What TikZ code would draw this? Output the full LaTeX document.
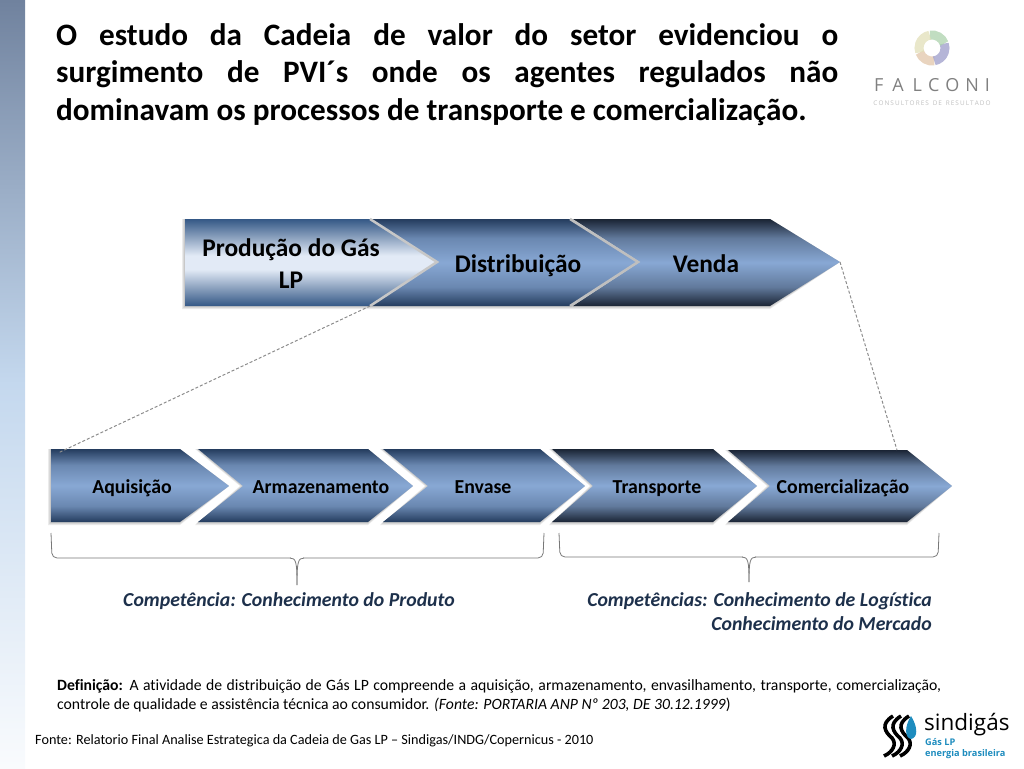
\documentclass[tikz,border=0pt]{standalone}
\usepackage{fontspec}
\setmainfont{Carlito}[Ligatures=NoCommon]
\newfontfamily\logofont{Open Sans}
\usepackage{xcolor}
\usepackage{tikz}
\usetikzlibrary{positioning, calc}
\definecolor{cStripTop}{RGB}{112,130,158}
\definecolor{cStripMid}{RGB}{196,216,238}
\definecolor{cEdgeBlue}{RGB}{52,88,134}
\definecolor{cPale}{RGB}{226,234,246}
\definecolor{cSteel}{RGB}{36,60,94}
\definecolor{cMidBlue}{RGB}{136,168,212}
\definecolor{cNight}{RGB}{26,36,52}
\definecolor{cBrace}{RGB}{120,120,120}
\definecolor{cLogoBlue}{RGB}{30,140,190}
\pgfdeclareverticalshading{stripshade}{100bp}{color(0bp)=(white); color(25bp)=(white!90!cStripMid); color(50bp)=(cStripMid); color(68bp)=(cStripTop!70!cStripMid); color(75bp)=(cStripTop); color(100bp)=(cStripTop)}
\pgfdeclareverticalshading{paleshade}{100bp}{color(0bp)=(cEdgeBlue); color(25bp)=(cEdgeBlue); color(46bp)=(cPale); color(54bp)=(cPale); color(75bp)=(cEdgeBlue); color(100bp)=(cEdgeBlue)}
\pgfdeclareverticalshading{steelshade}{100bp}{color(0bp)=(cSteel); color(25bp)=(cSteel); color(36bp)=(cSteel!30!cMidBlue); color(50bp)=(cMidBlue); color(64bp)=(cSteel!30!cMidBlue); color(75bp)=(cSteel); color(100bp)=(cSteel)}
\pgfdeclareverticalshading{nightshade}{100bp}{color(0bp)=(cNight); color(25bp)=(cNight); color(36bp)=(cNight!35!cMidBlue); color(50bp)=(cMidBlue); color(64bp)=(cNight!35!cMidBlue); color(75bp)=(cNight); color(100bp)=(cNight)}
\tikzset{
	titletext/.style={anchor=north west, inner sep=0pt, text width=782pt, align=justify, font=\fontsize{31.2}{37.8}\selectfont\bfseries},
	toplabel/.style ={align=center, font=\fontsize{25.4}{32}\selectfont\bfseries},
	lowlabel/.style ={font=\fontsize{19.8}{22}\selectfont\bfseries},
	compet/.style   ={font=\fontsize{19.8}{24}\selectfont\bfseries\itshape, text=cSteel!80!black},
	smalltext/.style={inner sep=0pt, font=\fontsize{14.2}{19.5}\selectfont},
	deftext/.style  ={inner sep=0pt, font=\fontsize{15.7}{19.5}\selectfont},
	zoomline/.style ={densely dashed, draw=black!45, line width=1pt},
	bracket/.style  ={draw=cBrace, line width=0.8pt, rounded corners=5pt},
	ringpart/.style ={line width=9pt, opacity=0.75},
}
\begin{document}
\begin{tikzpicture}[x=1pt,y=-1pt]
	\useasboundingbox (0,0) rectangle (1024,768);
	\shade[shading=stripshade] (0,0) rectangle (25,768);

	% upper chain
	\foreach \s in {3,2,1} {
		\fill[black, opacity=0.08] (185-\s,219) -- (770,219) -- (840,262) -- (770,306+\s) -- (185-\s,306+\s) -- cycle;
	}
	\shade[shading=nightshade] (573,219) -- (770,219) -- (840,262) -- (770,306) -- (573,306) -- (640,262) -- cycle;
	\shade[shading=steelshade] (370,219) -- (570,219) -- (638,262) -- (570,306) -- (370,306) -- (437,262) -- cycle;
	\draw[black!25, line width=2.5pt] (570,219) -- (638,262) -- (570,306);
	\shade[shading=paleshade] (185,219) -- (370,219) -- (437,262) -- (370,306) -- (185,306) -- cycle;
	\draw[black!22, line width=2.5pt] (370,219) -- (437,262) -- (370,306);
	\coordinate (prodfoot) at (370,306);
	\coordinate (vendatip) at (840,262);

	% lower chain
	\foreach \s in {3,2,1} {
		\fill[black, opacity=0.08] (51-\s,449) -- (180,449) -- (229,486) -- (180,522+\s) -- (51-\s,522+\s) -- cycle;
		\fill[black, opacity=0.08] (198-\s,449) -- (368,449) -- (413,486) -- (368,522+\s) -- (198-\s,522+\s) -- (243-\s,486) -- cycle;
		\fill[black, opacity=0.08] (383-\s,449) -- (540,449) -- (585,486) -- (540,522+\s) -- (383-\s,522+\s) -- (428-\s,486) -- cycle;
		\fill[black, opacity=0.08] (552-\s,449) -- (713,449) -- (757,486) -- (713,522+\s) -- (552-\s,522+\s) -- (593-\s,486) -- cycle;
		\fill[black, opacity=0.08] (728-\s,450) -- (907,450) -- (952,486) -- (907,522+\s) -- (728-\s,522+\s) -- (770-\s,486) -- cycle;
	}
	\shade[shading=steelshade] (51,449) -- (180,449) -- (229,486) -- (180,522) -- (51,522) -- cycle;
	\shade[shading=steelshade] (198,449) -- (368,449) -- (413,486) -- (368,522) -- (198,522) -- (243,486) -- cycle;
	\shade[shading=steelshade] (383,449) -- (540,449) -- (585,486) -- (540,522) -- (383,522) -- (428,486) -- cycle;
	\shade[shading=nightshade] (552,449) -- (713,449) -- (757,486) -- (713,522) -- (552,522) -- (593,486) -- cycle;
	\shade[shading=nightshade] (728,450) -- (907,450) -- (952,486) -- (907,522) -- (728,522) -- (770,486) -- cycle;
	\coordinate (aquicorner) at (58,453);
	\coordinate (comertop) at (897,450);

	\draw[zoomline] (prodfoot) -- (aquicorner);
	\draw[zoomline] (vendatip) -- (comertop);

	% braces
	\coordinate (bl) at (297,585);
	\coordinate (br) at (749,582);
	\draw[bracket] (51,533) -- (52,558) -- (543,558) -- (544,533);
	\draw[draw=white, line width=1.5pt] (291,558) -- (303,558);
	\draw[draw=cBrace, line width=0.8pt] (290,558) .. controls (296,558) and (297,562) .. (bl);
	\draw[draw=cBrace, line width=0.8pt] (304,558) .. controls (298,558) and (297,562) .. (bl);
	\draw[bracket] (559,533) -- (560,557) -- (938,557) -- (939,533);
	\draw[draw=white, line width=1.5pt] (743,557) -- (755,557);
	\draw[draw=cBrace, line width=0.8pt] (742,557) .. controls (748,557) and (749,561) .. (br);
	\draw[draw=cBrace, line width=0.8pt] (756,557) .. controls (750,557) and (749,561) .. (br);

	% texts
	\node[titletext] (title) at (56,23) {O estudo da Cadeia de valor do setor evidenciou o\linebreak surgimento de PVI´s onde os agentes regulados não\linebreak dominavam os processos de transporte e comercialização.};
	\node[toplabel] (prod) at (291,264) {Produção do Gás\\LP};
	\node[toplabel] (dist) at (518,266) {Distribuição};
	\node[toplabel] (venda) at (706,264) {Venda};
	\node[lowlabel] (aqui) at (132,488) {Aquisição};
	\node[lowlabel] (arm) at (321,487) {Armazenamento};
	\node[lowlabel] (env) at (483,487) {Envase};
	\node[lowlabel] (trans) at (657,489) {Transporte};
	\node[lowlabel] (comer) at (843,488) {Comercialização};
	\node[compet] (cprod) at (289,601) {Competência: Conhecimento do Produto};
	\node[compet, anchor=north east, align=right, inner sep=0pt] (clog) at (932,592) {Competências: Conhecimento de Logística\\Conhecimento do Mercado};
	\node[deftext, anchor=north west, text width=884pt, align=justify] (defin) at (57,679) {\textbf{Definição:} A atividade de distribuição de Gás LP compreende a aquisição, armazenamento, envasilhamento, transporte, comercialização,\linebreak controle de qualidade e assistência técnica ao consumidor. \textit{(Fonte: PORTARIA ANP Nº 203, DE 30.12.1999})};
	\node[smalltext, anchor=west] (fonte) at (35,741) {Fonte: Relatorio Final Analise Estrategica da Cadeia de Gas LP – Sindigas/INDG/Copernicus - 2010};

	% falconi logo
	\draw[ringpart, draw=brown!45] (932,48) ++(160:13) arc (160:80:13);
	\draw[ringpart, draw=blue!30!gray!60] (932,48) ++(80:13) arc (80:-20:13);
	\draw[ringpart, draw=green!30!gray!50] (932,48) ++(-20:13) arc (-20:-100:13);
	\draw[ringpart, draw=yellow!40!gray!45] (932,48) ++(-100:13) arc (-100:-200:13);
	\node[text=black!50, font=\logofont\fontsize{18}{20}\selectfont, inner sep=0pt] (falconi) at (932,85) {F\,\,\,A\,\,\,L\,\,C\,\,O\,\,N\,\,I};
	\node[text=black!25, font=\logofont\fontsize{6.4}{7}\selectfont, inner sep=0pt] (consult) at (932,103) {C\,O\,N\,S\,U\,L\,T\,O\,R\,E\,S\, \,D\,E\, \,R\,E\,S\,U\,L\,T\,A\,D\,O};

	% sindigas logo
	\foreach \dx in {0,8,16} {
		\draw[black, line width=3.6pt] (893+\dx,716) .. controls (880+\dx,724) and (885+\dx,732) .. (892+\dx,738) .. controls (897+\dx,744) and (893+\dx,752) .. (884+\dx,756);
	}
	\fill[cLogoBlue] (911,716) .. controls (904,727) and (905,738) .. (911,739) .. controls (918,738) and (918,727) .. (911,716) -- cycle;
	\node[inner sep=0pt, anchor=west, font=\logofont\fontsize{22.5}{24}\selectfont] (sindigas) at (924,725) {sindigás};
	\node[inner sep=0pt, anchor=west, text=cLogoBlue, align=left, font=\logofont\fontsize{9.2}{11}\selectfont\bfseries] (gaslp) at (925,749) {Gás LP\\energia brasileira};
\end{tikzpicture}
\end{document}
